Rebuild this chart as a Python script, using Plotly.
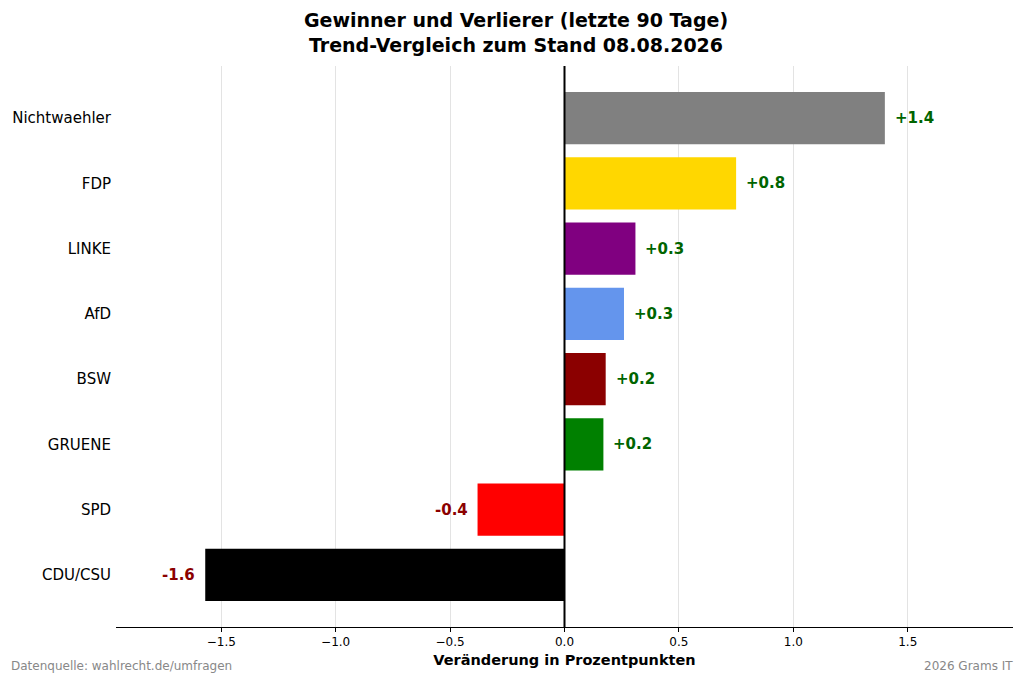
import plotly.graph_objects as go

parties = ["CDU/CSU", "SPD", "GRUENE", "BSW", "AfD", "LINKE", "FDP", "Nichtwaehler"]
changes = [-1.57, -0.38, 0.17, 0.18, 0.26, 0.31, 0.75, 1.40]
colors = ["#000000", "#FF0000", "#008000", "#8B0000", "#6495ED", "#800080", "#FFD700", "#808080"]
tick_vals = [-1.5, -1.0, -0.5, 0.0, 0.5, 1.0, 1.5]
tick_text = ["\u22121.5", "\u22121.0", "\u22120.5", "0.0", "0.5", "1.0", "1.5"]

FONT = "DejaVu Sans"

fig = go.Figure()
fig.add_trace(go.Bar(
    x=changes, y=parties, orientation="h",
    marker=dict(color=colors, line=dict(width=0)),
    width=0.8, hoverinfo="skip",
))

for p, v in zip(parties, changes):
    pos = v >= 0
    fig.add_annotation(
        x=v, y=p, xref="x", yref="y",
        text=f"<b>{'+' if pos else '-'}{abs(v):.1f}</b>",
        showarrow=False,
        xanchor="left" if pos else "right",
        xshift=8 if pos else -8,
        font=dict(family=FONT, size=15, color="#006400" if pos else "#8B0000"),
    )

fig.add_shape(type="line", xref="x", yref="paper", x0=0, x1=0, y0=0, y1=1,
              line=dict(color="black", width=2))

fig.add_annotation(text="Datenquelle: wahlrecht.de/umfragen", xref="paper", yref="paper",
                   x=-0.119, y=-0.07, xanchor="left", yanchor="middle", showarrow=False,
                   font=dict(family=FONT, size=12, color="#888888"))
fig.add_annotation(text="2026 Grams IT", xref="paper", yref="paper",
                   x=1.002, y=-0.07, xanchor="right", yanchor="middle", showarrow=False,
                   font=dict(family=FONT, size=12, color="#888888"))

fig.update_layout(
    width=1016, height=674,
    margin=dict(l=108, r=11, t=58, b=55, autoexpand=False),
    paper_bgcolor="white", plot_bgcolor="white",
    showlegend=False,
    title=dict(text="<b>Gewinner und Verlierer (letzte 90 Tage)<br>Trend-Vergleich zum Stand 08.08.2026</b>",
               x=0.5, xref="container", y=0.972, yanchor="top",
               font=dict(family=FONT, size=19, color="black")),
    font=dict(family=FONT, size=13, color="black"),
    xaxis=dict(range=[-1.96, 1.96], tickvals=tick_vals, ticktext=tick_text,
               showgrid=True, gridcolor="#e3e3e3", gridwidth=1,
               zeroline=False, showline=True, linecolor="black", linewidth=1,
               ticks="outside", ticklen=4, tickcolor="black",
               tickfont=dict(family=FONT, size=12),
               title=dict(text="<b>Veränderung in Prozentpunkten</b>", standoff=6,
                          font=dict(family=FONT, size=14.5))),
    yaxis=dict(range=[-0.8, 7.8], showgrid=False, zeroline=False, showline=False,
               ticks="", ticklabelstandoff=4,
               tickfont=dict(family=FONT, size=15)),
)

fig.write_html("out.html")
